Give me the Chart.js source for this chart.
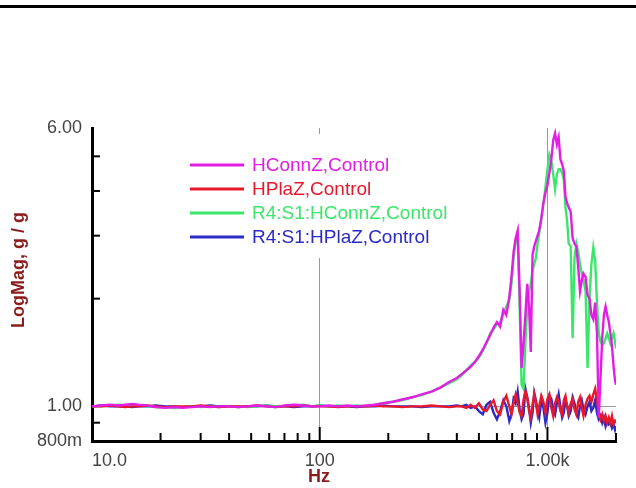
<!DOCTYPE html>
<html>
<head>
<meta charset="utf-8">
<script src="https://cdn.jsdelivr.net/npm/chart.js@4/dist/chart.umd.min.js"></script>
<style>
  body { margin: 0; background: #fff; }
  canvas { display: block; }
</style>
</head>
<body>
<canvas id="frf" width="636" height="488"></canvas>
<script>
// frequency points (Hz), shared by all four traces
const freqHz = [
  10, 11, 12, 13, 14, 15, 16, 17.5, 19, 21,
  23, 25, 27.5, 30, 33, 36, 40, 44, 48, 53,
  58, 64, 70, 77, 85, 93, 100, 110, 120, 132,
  145, 160, 175, 190, 210, 230, 255, 280, 310, 340,
  370, 400, 420, 440, 460, 480, 500, 520, 540, 560,
  580, 600, 620, 640, 660, 680, 695, 710, 725, 740,
  755, 770, 785, 800, 815, 830, 845, 860, 875, 890,
  905, 920, 940, 960, 980, 1000, 1020, 1040, 1060, 1080,
  1100, 1120, 1140, 1160, 1180, 1200, 1220, 1240, 1265, 1290,
  1315, 1340, 1365, 1390, 1415, 1440, 1470, 1500, 1530, 1560,
  1590, 1620, 1650, 1680, 1710, 1740, 1770, 1800, 1830, 1860,
  1890, 1920, 1950, 1980, 2000
];

const hconnZ = [
  1.00, 1.005, 1.01, 1.005, 1.01, 1.015, 1.01, 1.005, 0.995, 0.99,
  0.995, 0.99, 0.995, 1.00, 0.995, 1.00, 1.00, 0.995, 1.00, 1.005,
  1.00, 0.995, 1.005, 1.01, 1.005, 1.00, 1.00, 1.005, 1.00, 1.005,
  1.00, 1.005, 1.01, 1.02, 1.03, 1.045, 1.06, 1.08, 1.10, 1.13,
  1.17, 1.20, 1.23, 1.26, 1.29, 1.33, 1.38, 1.44, 1.51, 1.58,
  1.66, 1.72, 1.67, 1.86, 1.80, 2.02, 2.30, 2.70, 2.95, 3.10,
  2.10, 1.28, 1.50, 1.80, 2.20, 1.90, 1.42, 2.65, 2.80, 2.90,
  3.00, 3.10, 3.35, 3.70, 3.95, 4.15, 4.50, 4.90, 5.55, 5.80,
  5.40, 5.65, 4.90, 4.75, 4.55, 3.85, 3.70, 3.60, 3.50, 2.95,
  2.85, 2.80, 2.45, 2.10, 2.25, 2.35, 2.30, 2.05, 2.00, 1.80,
  1.75, 1.95, 1.60, 0.93, 1.20, 1.55, 1.80, 1.90, 1.80, 1.72,
  1.60, 1.48, 1.30, 1.18, 1.15
];

const hplaZ = [
  1.00, 1.00, 1.005, 1.00, 0.995, 1.00, 1.00, 1.005, 1.00, 0.995,
  1.00, 1.00, 1.00, 1.005, 1.00, 0.995, 1.00, 1.00, 1.00, 1.005,
  1.00, 0.995, 1.00, 1.00, 1.005, 1.00, 1.00, 1.00, 0.995, 1.00,
  1.00, 1.00, 1.005, 1.00, 1.00, 0.995, 1.00, 1.00, 1.005, 1.00,
  0.995, 1.00, 1.00, 0.99, 1.01, 0.99, 1.02, 0.98, 0.97, 1.01,
  1.04, 0.97, 0.95, 1.03, 1.07, 1.00, 0.95, 1.02, 1.08, 1.03,
  0.96, 0.94, 1.04, 1.10, 1.06, 0.97, 0.93, 1.01, 1.08, 1.02,
  0.95, 1.00, 1.07, 1.03, 0.96, 1.05, 1.08, 0.99, 0.94, 1.02,
  1.06, 1.03, 0.97, 0.95, 1.04, 1.07, 1.00, 0.96, 1.02, 1.05,
  0.98, 0.95, 1.03, 1.06, 0.99, 0.94, 1.01, 1.05, 1.07, 1.03,
  1.08, 1.12, 1.04, 0.96, 0.92, 0.95, 0.91, 0.94, 0.90, 0.93,
  0.90, 0.94, 0.89, 0.91, 0.90
];

const r4HconnZ = [
  1.00, 1.00, 1.005, 1.01, 1.005, 1.01, 1.005, 1.00, 0.995, 0.995,
  0.99, 0.995, 1.00, 0.995, 1.00, 0.995, 1.00, 1.00, 0.995, 1.00,
  1.005, 1.00, 1.00, 1.005, 1.01, 1.00, 1.005, 1.00, 1.005, 1.00,
  1.005, 1.00, 1.01, 1.02, 1.03, 1.04, 1.06, 1.075, 1.10, 1.13,
  1.16, 1.19, 1.22, 1.26, 1.30, 1.33, 1.37, 1.43, 1.50, 1.60,
  1.64, 1.70, 1.72, 1.82, 1.90, 1.98, 2.20, 2.60, 2.90, 3.00,
  1.90, 1.15, 1.12, 1.50, 1.90, 2.10, 2.20, 2.40, 2.50, 2.60,
  2.85, 3.05, 3.35, 3.70, 4.10, 4.60, 5.05, 4.85, 4.45, 4.05,
  4.45, 4.60, 4.60, 4.50, 4.30, 3.60, 3.30, 2.85, 2.80, 1.55,
  2.60, 2.85, 2.70, 2.50, 2.35, 2.25, 2.10, 1.28, 2.00, 2.50,
  2.78, 2.55, 1.95, 1.60, 1.52, 1.48, 1.50, 1.55, 1.60, 1.55,
  1.50, 1.55, 1.60, 1.52, 1.45
];

const r4HplaZ = [
  1.00, 1.005, 1.00, 1.00, 1.00, 0.995, 1.00, 1.00, 1.005, 1.00,
  1.00, 0.995, 1.00, 1.00, 1.005, 1.00, 1.00, 0.995, 1.00, 1.00,
  1.005, 1.00, 1.00, 0.995, 1.00, 1.00, 1.005, 1.00, 1.00, 1.00,
  0.995, 1.00, 1.00, 1.005, 1.00, 1.00, 1.00, 0.995, 1.00, 1.00,
  1.00, 1.005, 1.00, 1.01, 0.99, 1.00, 0.97, 0.95, 1.01, 1.03,
  0.96, 0.92, 0.97, 1.04, 1.00, 0.91, 0.95, 1.05, 1.02, 1.10,
  0.98, 0.92, 0.95, 1.12, 1.06, 0.99, 0.90, 0.96, 1.09, 1.04,
  0.97, 0.93, 1.04, 0.99, 0.90, 0.96, 1.07, 1.05, 0.98, 0.95,
  1.02, 1.08, 1.00, 0.93, 0.96, 1.04, 1.01, 0.94, 0.97, 1.06,
  1.02, 0.95, 0.93, 1.00, 1.04, 0.98, 0.95, 1.00, 1.03, 0.97,
  0.99, 1.04, 0.96, 0.92, 0.94, 0.90, 0.93, 0.88, 0.91, 0.89,
  0.90, 0.87, 0.89, 0.86, 0.88
];

const seriesNames = ["HConnZ,Control", "HPlaZ,Control", "R4:S1:HConnZ,Control", "R4:S1:HPlaZ,Control"];
const seriesColors = ["#e41de4", "#e8182c", "#3ce66a", "#2a2ac6"];

// axis ticks
const xTickHz = [10, 20, 30, 40, 50, 60, 70, 80, 90, 100, 200, 300, 400, 500, 600, 700, 800, 900, 1000, 2000];
const xTickLabels = { 10: "10.0", 100: "100", 1000: "1.00k" };
const yTickVals = [0.8, 0.9, 1, 2, 3, 4, 5, 6];
const yTickLabels = { 0.8: "800m", 1: "1.00", 6: "6.00" };

const toPoints = vals => freqHz.map((f, i) => ({ x: f, y: vals[i] }));
const allSeries = [hconnZ, hplaZ, r4HconnZ, r4HplaZ];

const decor = {
    id: "decor",
    beforeDatasetsDraw(chart) {
        const ctx = chart.ctx;
        ctx.save();
        // legend box sits on top of the grid
        ctx.fillStyle = "#fff";
        ctx.fillRect(186, 134, 272, 124);
        chart.data.datasets.forEach((ds, i) => {
            const y = 165 + i * 24;
            ctx.strokeStyle = ds.borderColor;
            ctx.lineWidth = 3;
            ctx.beginPath();
            ctx.moveTo(190, y);
            ctx.lineTo(244, y);
            ctx.stroke();
            ctx.fillStyle = ds.borderColor;
            ctx.font = "19px Arial, 'Liberation Sans', sans-serif";
            ctx.textBaseline = "middle";
            ctx.fillText(ds.label, 252, y + 1);
        });
        ctx.restore();
    },
    afterDraw(chart) {
        const ctx = chart.ctx;
        const xs = chart.scales.x, ys = chart.scales.y;
        const area = chart.chartArea;
        ctx.save();
        // rule at top of the page
        ctx.fillStyle = "#000";
        ctx.fillRect(0, 5, chart.width, 3);

        // tick marks point into the plot
        ctx.strokeStyle = "#000";
        ctx.lineWidth = 2;
        xTickHz.forEach(v => {
            if (v === 10) return;
            const px = xs.getPixelForValue(v);
            const len = (v === 100 || v === 1000) ? 14 : 8;
            ctx.beginPath();
            ctx.moveTo(px, area.bottom);
            ctx.lineTo(px, area.bottom - len);
            ctx.stroke();
        });
        yTickVals.forEach(v => {
            if (v === 0.8 || v === 1 || v === 6) return;
            const py = ys.getPixelForValue(v);
            ctx.beginPath();
            ctx.moveTo(area.left, py);
            ctx.lineTo(area.left + 8, py);
            ctx.stroke();
        });

        // axis titles
        ctx.fillStyle = "#8a1c1c";
        ctx.font = "bold 18px Arial, 'Liberation Sans', sans-serif";
        ctx.textAlign = "center";
        ctx.textBaseline = "middle";
        ctx.fillText("Hz", 319, 477);
        ctx.translate(19, 270);
        ctx.rotate(-Math.PI / 2);
        ctx.fillText("LogMag, g / g", 0, 0);
        ctx.restore();
    }
};

new Chart(document.getElementById("frf"), {
    type: "line",
    data: {
        datasets: allSeries.map((vals, i) => ({
            label: seriesNames[i],
            data: toPoints(vals),
            borderColor: seriesColors[i],
            borderWidth: 2.4,
            pointRadius: 0,
            tension: 0
        }))
    },
    options: {
        responsive: false,
        animation: false,
        layout: { padding: { left: 0, right: 20, top: 128, bottom: 0 } },
        plugins: { legend: { display: false }, tooltip: { enabled: false } },
        scales: {
            x: {
                type: "logarithmic",
                min: 10,
                max: 2000,
                afterBuildTicks: s => { s.ticks = xTickHz.map(v => ({ value: v })); },
                afterFit: s => { s.height = 47; },
                border: { color: "#000", width: 3 },
                grid: {
                    drawTicks: false,
                    color: c => (c.tick && (c.tick.value === 100 || c.tick.value === 1000)) ? "#9a9a9a" : "rgba(0,0,0,0)"
                },
                ticks: {
                    autoSkip: false,
                    maxRotation: 0,
                    minRotation: 0,
                    align: "inner",
                    padding: 9,
                    color: "#444",
                    font: { family: "Arial, 'Liberation Sans', sans-serif", size: 18 },
                    callback: v => xTickLabels[v] || ""
                }
            },
            y: {
                type: "logarithmic",
                min: 0.8,
                max: 6,
                afterBuildTicks: s => { s.ticks = yTickVals.map(v => ({ value: v })); },
                afterFit: s => { s.width = 92; },
                border: { color: "#000", width: 3 },
                grid: {
                    drawTicks: false,
                    color: c => (c.tick && c.tick.value === 1) ? "#9a9a9a" : "rgba(0,0,0,0)"
                },
                ticks: {
                    autoSkip: false,
                    padding: 10,
                    color: "#444",
                    font: { family: "Arial, 'Liberation Sans', sans-serif", size: 18 },
                    callback: v => yTickLabels[v] || ""
                }
            }
        }
    },
    plugins: [decor]
});
</script>
</body>
</html>
